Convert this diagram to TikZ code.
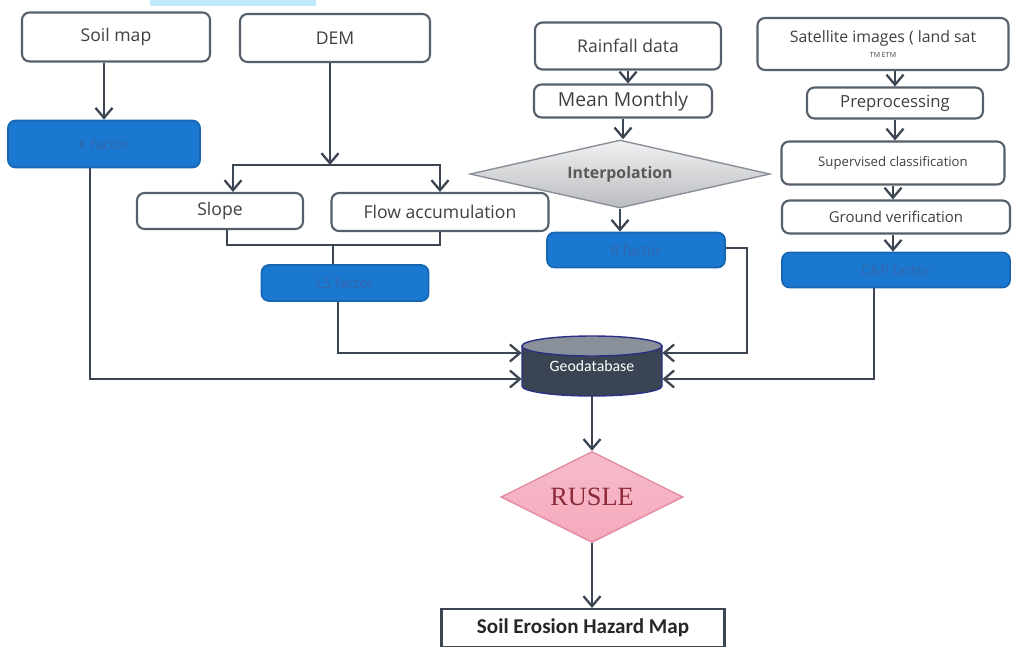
\documentclass[tikz,border=0pt]{standalone}
\usepackage{fontspec}
\setmainfont{Open Sans}
\newfontfamily\mapfont{Carlito}
\newfontfamily\ruslefont{Liberation Serif}
\usepackage{tikz}
\usetikzlibrary{positioning,shapes.geometric,arrows.meta}

\definecolor{edgegray}{HTML}{56606C}
\definecolor{linegray}{HTML}{3C4652}
\definecolor{factorblue}{HTML}{1A78D0}
\definecolor{factortext}{HTML}{3565A8}
\definecolor{interpfill}{HTML}{DCDDE1}
\definecolor{rusfill}{HTML}{F5AABC}
\definecolor{rusedge}{HTML}{E48CA3}
\definecolor{rustext}{HTML}{8B2A3A}
\definecolor{geobody}{HTML}{3A4452}
\definecolor{geotop}{HTML}{8A9099}

\tikzset{
  box/.style={draw=edgegray, line width=1.2pt, rounded corners=0.15cm, fill=white,
    inner sep=2pt, font=\fontsize{10}{12}\selectfont, text=black!75},
  bluebox/.style={draw=factorblue!85!black, line width=1pt, rounded corners=0.15cm,
    fill=factorblue, font=\fontsize{8}{10}\selectfont, text=factortext},
  arr/.style={draw=linegray, line width=1.3pt, -{Straight Barb[length=2mm,width=3.4mm]}},
  link/.style={draw=linegray, line width=1.3pt}
}

\begin{document}
\begin{tikzpicture}
  \useasboundingbox (0,0) rectangle (20.24,12.92);
  \fill[cyan!25] (3.00,12.80) rectangle (6.32,12.92);

  % Set up nodes
  \node[box, minimum width=3.76cm, minimum height=0.98cm] (soil) at (2.32,12.18) {Soil map};
  \node[box, minimum width=3.80cm, minimum height=0.96cm] (dem) at (6.70,12.16) {DEM};
  \node[bluebox, minimum width=3.84cm, minimum height=0.94cm] (kfac) at (2.08,10.04) {K factor};
  \node[box, minimum width=3.32cm, minimum height=0.72cm] (slope) at (4.40,8.70) {Slope};
  \node[box, minimum width=4.34cm, minimum height=0.76cm] (flow) at (8.80,8.68) {Flow accumulation};
  \node[bluebox, minimum width=3.34cm, minimum height=0.72cm] (lsfac) at (6.90,7.26) {LS factor};

  \node[box, minimum width=3.72cm, minimum height=0.94cm] (rain) at (12.56,12.00) {Rainfall data};
  \node[box, minimum width=3.56cm, minimum height=0.66cm, font=\fontsize{11}{13}\selectfont] (mean) at (12.46,10.90) {Mean Monthly};
  \node[diamond, draw=edgegray!70, line width=0.8pt, top color=white!60!interpfill, bottom color=interpfill!85!black,
    inner sep=0pt, aspect=4.4, minimum width=6.00cm, minimum height=1.36cm,
    font=\bfseries\fontsize{9}{11}\selectfont, text=black!65] (interp) at (12.40,9.44) {Interpolation};
  \node[bluebox, minimum width=3.56cm, minimum height=0.70cm] (rfac) at (12.72,7.92) {R factor};

  \node[box, minimum width=5.02cm, minimum height=1.04cm, align=center, font=\fontsize{9}{9}\selectfont] (sat) at (17.66,12.04)
    {Satellite images ( land sat\\[-1pt]{\fontsize{4}{4}\selectfont TM ETM}};
  \node[box, minimum width=3.52cm, minimum height=0.62cm, font=\fontsize{9.5}{11}\selectfont] (pre) at (17.90,10.86) {Preprocessing};
  \node[box, minimum width=4.46cm, minimum height=0.86cm, font=\fontsize{7.5}{9}\selectfont] (sup) at (17.86,9.66) {Supervised classification};
  \node[box, minimum width=4.56cm, minimum height=0.66cm, font=\fontsize{8.5}{10}\selectfont] (ground) at (17.92,8.58) {Ground verification};
  \node[bluebox, minimum width=4.56cm, minimum height=0.70cm] (cp) at (17.92,7.52) {C\&P factor};

  % geodatabase drum
  \filldraw[draw=linegray!70!blue, line width=0.8pt, fill=geobody]
    (10.44,6.00) -- (10.44,5.20) arc[start angle=180, end angle=360, x radius=1.40, y radius=0.20]
    -- (13.24,6.00) -- cycle;
  \filldraw[draw=linegray!70!blue, line width=0.8pt, fill=geotop] (11.84,6.00) ellipse[x radius=1.40, y radius=0.20];
  \node[minimum width=2.80cm, minimum height=1.20cm, text=white, font=\mapfont\fontsize{9}{11}\selectfont] (geo) at (11.84,5.60) {Geodatabase};

  \node[diamond, draw=rusedge, line width=0.8pt, top color=rusfill!80!white, bottom color=rusfill,
    inner sep=0pt, aspect=2, minimum width=3.64cm, minimum height=1.82cm,
    font=\ruslefont\fontsize{15}{17}\selectfont, text=rustext] (rusle) at (11.84,2.98) {RUSLE};
  \node[draw=linegray, line width=1.2pt, minimum width=5.66cm, minimum height=0.76cm,
    font=\mapfont\bfseries\fontsize{12}{14}\selectfont, text=black!85] (map) at (11.66,0.36) {Soil Erosion Hazard Map};

  % Junction points
  \coordinate (br1) at (6.60,9.62);
  \coordinate (jn) at (6.66,8.02);

  % Draw edges
  \draw[arr] (kfac.north |- soil.south) -- (kfac.north);
  \draw[arr] (dem.south -| br1) -- (br1);
  \draw[link] (br1) -- (br1 -| flow.north);
  \draw[arr] (br1) -| ([xshift=0.26cm]slope.north);
  \draw[arr] (br1) -| (flow.north);
  \draw[link] ([xshift=0.14cm]slope.south) |- (jn) -| (flow.south);
  \draw[link] (jn) -- (jn |- lsfac.north);

  \draw[arr] (rain) -- (rain |- mean.north);
  \draw[arr] (mean) -- (mean |- interp.north);
  \draw[arr] (interp) -- (interp |- rfac.north);

  \draw[arr] ([xshift=0.24cm]sat.south) -- ([xshift=0.24cm]sat.south |- pre.north);
  \draw[arr] (pre) -- (pre |- sup.north);
  \draw[arr] (sup) -- (sup |- ground.north);
  \draw[arr] (sup |- ground.south) -- (sup |- cp.north);

  \draw[arr] ([xshift=-0.14cm]lsfac.south) |- ([yshift=0.26cm]geo.west);
  \draw[arr] ([xshift=-0.28cm]kfac.south) |- ([yshift=-0.26cm]geo.west);
  \draw[arr] ([yshift=0.04cm]rfac.east) -| (14.94,6.80) |- ([yshift=0.26cm]geo.east);
  \draw[arr] ([xshift=-0.44cm]cp.south) |- ([yshift=-0.26cm]geo.east);

  \draw[arr] (geo.south) -- (rusle.north);
  \draw[arr] (rusle.south) -- (rusle.south |- map.north);
\end{tikzpicture}
\end{document}
